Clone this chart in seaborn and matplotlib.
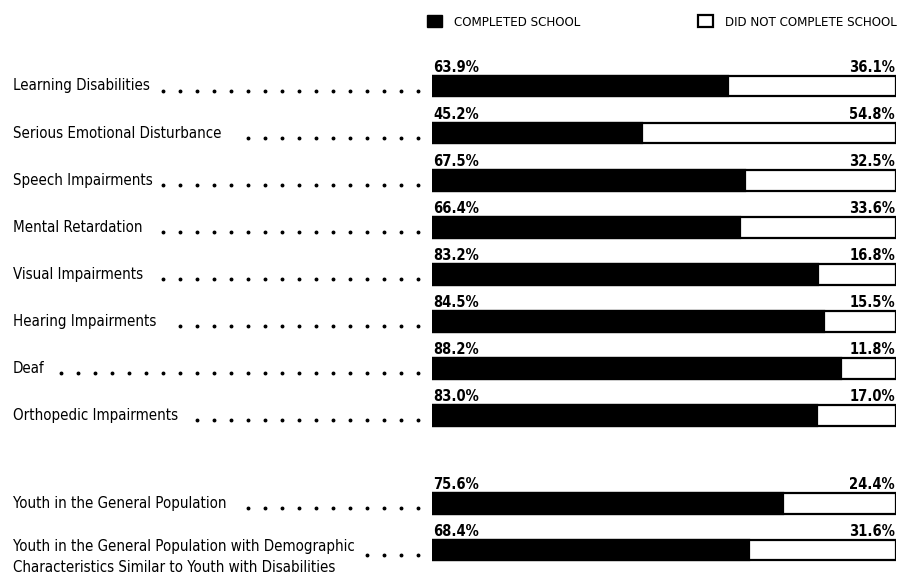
import numpy as np
import pandas as pd
import matplotlib
matplotlib.use("Agg")
import matplotlib.pyplot as plt
import matplotlib.transforms as mtransforms
from matplotlib.patches import Patch
import seaborn as sns

# values
categories = [
    "Learning Disabilities",
    "Serious Emotional Disturbance",
    "Speech Impairments",
    "Mental Retardation",
    "Visual Impairments",
    "Hearing Impairments",
    "Deaf",
    "Orthopedic Impairments",
    "Youth in the General Population",
    "Youth in the General Population with Demographic\nCharacteristics Similar to Youth with Disabilities",
]
completed = [63.9, 45.2, 67.5, 66.4, 83.2, 84.5, 88.2, 83.0, 75.6, 68.4]
not_completed = [36.1, 54.8, 32.5, 33.6, 16.8, 15.5, 11.8, 17.0, 24.4, 31.6]

# row positions: 8 disability rows, a gap, then the 2 comparison rows
rows = list(np.arange(8.0)) + [8.87, 9.85]

df = pd.DataFrame({"row": rows, "completed": completed,
                   "total": np.array(completed) + np.array(not_completed)})

sns.set_style("white")
plt.rcParams["font.family"] = ["DejaVu Sans"]
plt.rcParams["font.stretch"] = "condensed"
plt.rcParams["text.color"] = "black"

W, H = 904, 576
fig = plt.figure(figsize=(W / 100, H / 100), dpi=100)
ax = fig.add_axes([432 / W, 0, (896 - 432) / W, 1])

bar_h = 0.44
step = np.min(np.diff(rows))
sns.barplot(data=df, x="total", y="row", orient="h", native_scale=True,
            color="white", edgecolor="black", linewidth=1.6,
            width=bar_h / step, saturation=1, ax=ax)
sns.barplot(data=df, x="completed", y="row", orient="h", native_scale=True,
            color="black", edgecolor="black", linewidth=1.6,
            width=bar_h / step, saturation=1, ax=ax)

px = 47.1  # pixels per row
ax.set_xlim(0, 100)
ax.set_ylim((H - 86) / px, -86 / px)
ax.axis("off")

# percentages above each bar
for r, c, n in zip(rows, completed, not_completed):
    ax.text(0.3, r - 0.40, f"{c:.1f}%", ha="left", va="center",
            fontsize=10.5, fontweight="bold")
    ax.text(99.8, r - 0.40, f"{n:.1f}%", ha="right", va="center",
            fontsize=10.5, fontweight="bold")

# category labels on the left with dot leaders
lab_tr = mtransforms.blended_transform_factory(fig.transFigure, ax.transData)
labels = []
for r, cat in zip(rows, categories):
    multi = "\n" in cat
    t = ax.text(13 / W, r + (0.14 if multi else 0), cat, transform=lab_tr,
                ha="left", va="center", fontsize=10.8, linespacing=1.5,
                clip_on=False)
    labels.append((t, r, multi))

fig.canvas.draw()
renderer = fig.canvas.get_renderer()
for t, r, multi in labels:
    end = t.get_window_extent(renderer).x1
    xs = np.arange(418, end + 10, -17.0)
    ax.plot(xs / W, [r + 0.1] * len(xs), transform=lab_tr, ls="none",
            marker="o", ms=1.8, color="black", clip_on=False)

# legend
leg1 = fig.legend(handles=[Patch(facecolor="black", edgecolor="black")],
                  labels=["COMPLETED SCHOOL"], loc="center left",
                  bbox_to_anchor=(422 / W, 1 - 22 / H), frameon=False,
                  fontsize=9.5, handlelength=1.1, handleheight=1.0,
                  handletextpad=0.9, borderaxespad=0)
leg2 = fig.legend(handles=[Patch(facecolor="white", edgecolor="black", linewidth=1.6)],
                  labels=["DID NOT COMPLETE SCHOOL"], loc="center left",
                  bbox_to_anchor=(693 / W, 1 - 22 / H), frameon=False,
                  fontsize=9.5, handlelength=1.1, handleheight=1.0,
                  handletextpad=0.9, borderaxespad=0)

fig.savefig("out.png", dpi=100)
